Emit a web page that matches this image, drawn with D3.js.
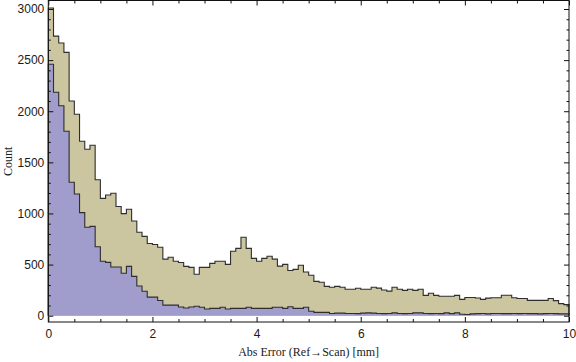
<!DOCTYPE html>
<html>
<head>
<meta charset="utf-8">
<script src="https://cdn.jsdelivr.net/npm/d3@7"></script>
<style>
  body { margin: 0; background: #fff; }
  svg { display: block; font-family: 'Liberation Serif', 'DejaVu Serif', serif; }
  .tick text { font-size: 12px; fill: #1a1a1a; }
</style>
</head>
<body>
<svg id="chart" width="576" height="362"></svg>
<script>
// histogram bins: 0.1 mm wide, from 0 to 10 mm
const binWidth = 0.1;

// all points (beige, back)
const totalCounts = [
  3010, 2735, 2668, 2576, 2100, 1970, 1706, 1628, 1667, 1330,
  1148, 1180, 1198, 1068, 998, 1041, 926, 817, 776, 706,
  696, 669, 553, 572, 533, 520, 482, 473, 406, 473,
  473, 512, 532, 532, 502, 630, 659, 767, 659, 561,
  532, 561, 581, 553, 485, 502, 442, 453, 493, 427,
  395, 336, 327, 287, 278, 287, 278, 258, 258, 268,
  258, 258, 278, 270, 252, 240, 278, 259, 248, 258,
  248, 258, 199, 219, 199, 190, 190, 190, 199, 160,
  178, 178, 173, 160, 172, 176, 176, 200, 200, 176,
  168, 168, 150, 150, 150, 150, 168, 147, 118, 108
];

// subset (blue, front)
const subsetCounts = [
  2459, 2185, 2054, 1804, 1305, 1190, 1008, 865, 874, 675,
  532, 522, 476, 476, 415, 482, 385, 290, 239, 182,
  182, 148, 103, 103, 103, 85, 75, 85, 92, 82,
  66, 72, 72, 82, 66, 72, 72, 72, 82, 72,
  72, 72, 72, 82, 82, 72, 88, 72, 72, 82,
  43, 33, 33, 33, 22, 25, 25, 22, 22, 20,
  25, 28, 25, 22, 20, 22, 28, 22, 20, 22,
  28, 28, 22, 20, 22, 20, 28, 20, 28, 14,
  12, 18, 20, 22, 18, 22, 22, 20, 20, 22,
  20, 22, 20, 20, 18, 20, 22, 20, 18, 18
];

const xMajorTicks = [0, 2, 4, 6, 8, 10];
const yMajorTicks = [0, 500, 1000, 1500, 2000, 2500, 3000];
const xLabel = "Abs Error (Ref\u2192Scan) [mm]";
const yLabel = "Count";

const svg = d3.select("#chart");

const x = d3.scaleLinear().domain([0, 10]).range([48.3, 569]);
const y = d3.scaleLinear().domain([0, 3000]).range([315.7, 9]);

const frameTop = 0.5, frameBottom = 322;

// turn counts into step points closed at the baseline
function stepPoints(counts) {
  const pts = [{x: 0, v: 0}];
  counts.forEach((c, i) => pts.push({x: i * binWidth, v: c}));
  pts.push({x: counts.length * binWidth, v: counts[counts.length - 1]});
  pts.push({x: counts.length * binWidth, v: 0});
  return pts;
}

const area = d3.area()
  .curve(d3.curveStepAfter)
  .x(d => x(d.x))
  .y0(y(0))
  .y1(d => y(d.v));

const line = d3.line()
  .curve(d3.curveStepAfter)
  .x(d => x(d.x))
  .y(d => y(d.v));

const series = [
  {counts: totalCounts, fill: "#cbc69f"},
  {counts: subsetCounts, fill: "#a09dcc"}
];

series.forEach(s => {
  const pts = stepPoints(s.counts);
  svg.append("path")
    .attr("d", area(pts))
    .attr("fill", s.fill)
    .attr("stroke", "none");
  svg.append("path")
    .attr("d", line(pts))
    .attr("fill", "none")
    .attr("stroke", "#2e2e2e")
    .attr("stroke-width", 1.1)
    .attr("stroke-linejoin", "miter");
});

// frame ticks (pointing inward)
const xMinor = d3.range(0, 10.001, 0.5).filter(v => !xMajorTicks.some(t => Math.abs(t - v) < 1e-6));
const yMinor = d3.range(0, 3001, 100).filter(v => v % 500 !== 0);

function styleAxis(g) {
  g.select(".domain").remove();
  g.selectAll(".tick line").attr("stroke", "#111").attr("stroke-width", 1);
}

// bottom
svg.append("g").attr("transform", `translate(0,${frameBottom})`)
  .call(d3.axisBottom(x).tickValues(xMajorTicks).tickSize(-5).tickPadding(7).tickFormat(d3.format("d")))
  .call(styleAxis);
svg.append("g").attr("transform", `translate(0,${frameBottom})`)
  .call(d3.axisBottom(x).tickValues(xMinor).tickSize(-3).tickFormat(""))
  .call(styleAxis);
// top
svg.append("g").attr("transform", `translate(0,${frameTop})`)
  .call(d3.axisTop(x).tickValues(xMajorTicks).tickSize(-5).tickFormat(""))
  .call(styleAxis);
svg.append("g").attr("transform", `translate(0,${frameTop})`)
  .call(d3.axisTop(x).tickValues(xMinor).tickSize(-3).tickFormat(""))
  .call(styleAxis);
// left
svg.append("g").attr("transform", `translate(${x(0)},0)`)
  .call(d3.axisLeft(y).tickValues(yMajorTicks).tickSize(-5).tickPadding(4).tickFormat(d3.format("d")))
  .call(styleAxis);
svg.append("g").attr("transform", `translate(${x(0)},0)`)
  .call(d3.axisLeft(y).tickValues(yMinor).tickSize(-2.5).tickFormat(""))
  .call(styleAxis);
// right
svg.append("g").attr("transform", `translate(${x(10)},0)`)
  .call(d3.axisRight(y).tickValues(yMajorTicks).tickSize(-5).tickFormat(""))
  .call(styleAxis);
svg.append("g").attr("transform", `translate(${x(10)},0)`)
  .call(d3.axisRight(y).tickValues(yMinor).tickSize(-2.5).tickFormat(""))
  .call(styleAxis);

// frame
svg.append("rect")
  .attr("x", x(0))
  .attr("y", frameTop)
  .attr("width", x(10) - x(0))
  .attr("height", frameBottom - frameTop)
  .attr("fill", "none")
  .attr("stroke", "#111")
  .attr("stroke-width", 1);

// axis titles
svg.append("text")
  .attr("x", (x(0) + x(10)) / 2)
  .attr("y", 356)
  .attr("text-anchor", "middle")
  .attr("font-size", "12px")
  .attr("fill", "#1a1a1a")
  .text(xLabel);

svg.append("text")
  .attr("transform", `translate(12,${(frameTop + frameBottom) / 2}) rotate(-90)`)
  .attr("text-anchor", "middle")
  .attr("font-size", "12px")
  .attr("fill", "#1a1a1a")
  .text(yLabel);
</script>
</body>
</html>
